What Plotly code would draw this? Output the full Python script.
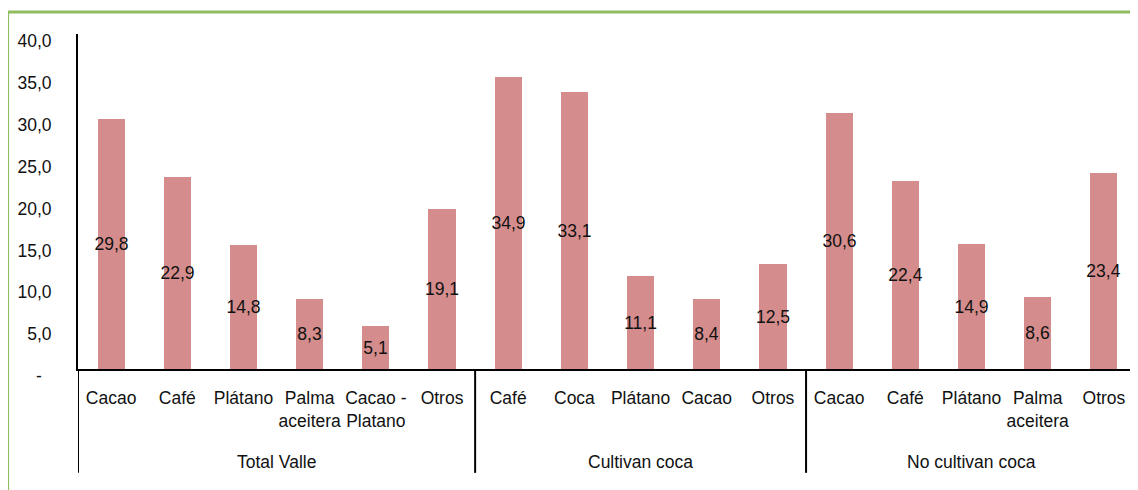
import plotly.graph_objects as go

groups = ["Total Valle", "Cultivan coca", "No cultivan coca"]
group_cats = [
    ["Cacao", "Café", "Plátano", "Palma<br>aceitera", "Cacao -<br>Platano", "Otros"],
    ["Café", "Coca", "Plátano", "Cacao", "Otros"],
    ["Cacao", "Café", "Plátano", "Palma<br>aceitera", "Otros"],
]
group_vals = [
    [29.8, 22.9, 14.8, 8.3, 5.1, 19.1],
    [34.9, 33.1, 11.1, 8.4, 12.5],
    [30.6, 22.4, 14.9, 8.6, 23.4],
]
y_ticks = [0, 5, 10, 15, 20, 25, 30, 35, 40]
y_ticktext = ["-\u00a0\u00a0", "5,0", "10,0", "15,0", "20,0", "25,0", "30,0", "35,0", "40,0"]

BAR = "#D48C8C"
GREEN = "#8FBC5F"
FONT = "Liberation Sans, Arial, sans-serif"
FS = 17.5

cats, vals = [], []
for c, v in zip(group_cats, group_vals):
    cats += c
    vals += v
xs = list(range(len(cats)))

fig = go.Figure()
fig.add_trace(go.Bar(
    x=xs, y=vals, width=0.41,
    marker=dict(color=BAR, line=dict(width=0)),
    text=[f"{v:.1f}".replace(".", ",") for v in vals],
    textposition="inside", insidetextanchor="middle", textangle=0,
    constraintext="none", cliponaxis=False,
    insidetextfont=dict(color="#111111", size=FS, family=FONT),
    hoverinfo="skip",
))

shapes = []
start = 0
bounds = [-0.5]
for c in group_cats:
    start += len(c)
    bounds.append(start - 0.5)
for b in bounds:
    shapes.append(dict(type="line", xref="x", yref="paper", x0=b, x1=b, y0=0, y1=-0.31,
                       line=dict(color="black", width=2)))
shapes.append(dict(type="rect", xref="paper", yref="paper", x0=-0.0665, x1=1.2, y0=-1, y1=1.0657,
                   line=dict(color=GREEN, width=3), fillcolor="rgba(0,0,0,0)", layer="below"))

annotations = []
start = 0
for g, c in zip(groups, group_cats):
    center = start + (len(c) - 1) / 2
    annotations.append(dict(x=center, xref="x", y=-0.278, yref="paper", text=g, showarrow=False,
                            yanchor="middle", font=dict(size=FS, color="#111111", family=FONT)))
    start += len(c)

fig.update_layout(
    width=1130, height=482, autosize=False,
    margin=dict(l=70, r=1, t=26, b=121),
    paper_bgcolor="white", plot_bgcolor="white",
    showlegend=False, bargap=0,
    font=dict(family=FONT, size=FS, color="#111111"),
    shapes=shapes, annotations=annotations,
)
fig.update_xaxes(
    range=[-0.5, len(cats) - 0.5], tickvals=xs, ticktext=cats, tickangle=0,
    showline=True, linecolor="black", linewidth=2, showgrid=False, zeroline=False,
    ticks="", ticklabelstandoff=12, tickfont=dict(size=FS, color="#111111", family=FONT),
    fixedrange=True,
)
fig.update_yaxes(
    range=[0, 40], tickvals=y_ticks, ticktext=y_ticktext,
    showline=True, linecolor="black", linewidth=2, showgrid=False, zeroline=False,
    ticks="", ticklabelstandoff=21, ticklabelshift=7,
    tickfont=dict(size=FS, color="#111111", family=FONT),
    fixedrange=True,
)

fig.write_html("out.html")
